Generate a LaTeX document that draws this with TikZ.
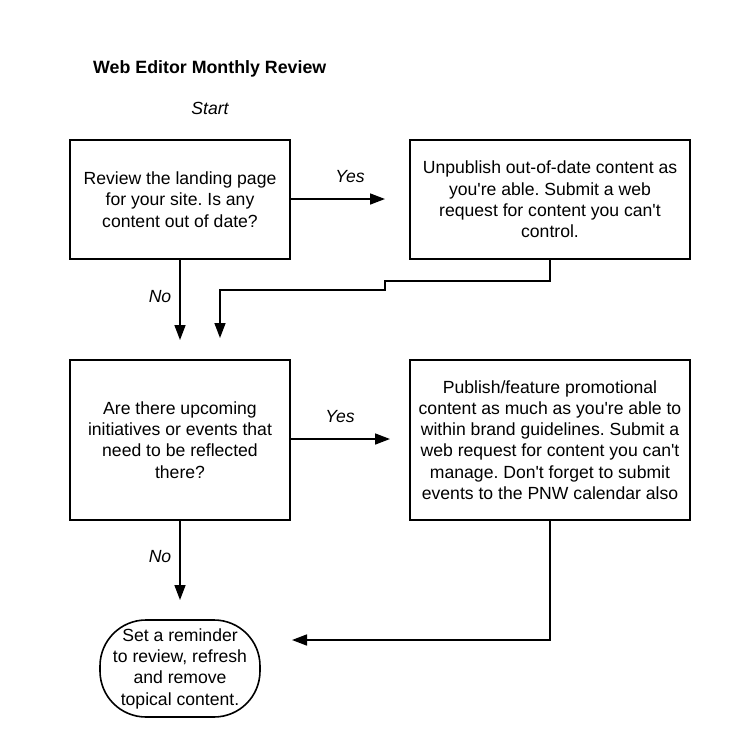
\documentclass[tikz,border=0pt]{standalone}
\usepackage{fontspec}
\setmainfont{Liberation Sans}
\usetikzlibrary{arrows.meta}
\newcommand{\ap}{\textquotesingle}
\begin{document}
\frenchspacing
\begin{tikzpicture}[x=1pt,y=-1pt,
  txt/.style={font=\fontsize{17.6}{21.3}\selectfont, align=center, inner sep=0pt},
  box/.style={draw, line width=1.6pt, txt},
  conn/.style={line width=1.6pt, -{Triangle[length=15pt,width=11pt]}},
  lbl/.style={font=\fontsize{17.6}{20}\selectfont\itshape, inner sep=0pt}]
\useasboundingbox (0,0) rectangle (730,756);
\fill[white] (0,0) rectangle (730,756);
\node[font=\fontsize{17.8}{20}\selectfont\bfseries, anchor=west, inner sep=0pt] (title) at (93,69) {Web Editor Monthly Review};
\node[lbl] (start) at (210,108) {Start};
\node[box, minimum width=220pt, minimum height=119pt] (b1) at (180,199.5)
  {Review the landing page\\for your site. Is any\\content out of date?};
\node[box, minimum width=280pt, minimum height=119pt] (b2) at (550,199.5)
  {Unpublish out-of-date content as\\you\ap re able. Submit a web\\request for content you can\ap t\\control.};
\node[box, minimum width=220pt, minimum height=160pt] (b3) at (180,440)
  {Are there upcoming\\initiatives or events that\\need to be reflected\\there?};
\node[box, minimum width=280pt, minimum height=160pt] (b4) at (550,440)
  {Publish/feature promotional\\content as much as you\ap re able to\\within brand guidelines. Submit a\\web request for content you can\ap t\\manage. Don\ap t forget to submit\\events to the PNW calendar also};
\node[box, minimum width=160pt, minimum height=97pt, rounded corners=46pt] (end) at (180,668.5)
  {Set a reminder\\to review, refresh\\and remove\\topical content.};
\coordinate (t1) at (385,199);
\coordinate (t2) at (390,439);
\coordinate (n1) at (180,340);
\coordinate (r1) at (220,338);
\coordinate (n2) at (180,600);
\coordinate (r2) at (292,640);
\draw[conn] (b1.east |- t1) -- (t1);
\node[lbl] (yes1) at (350,177) {Yes};
\draw[conn] (b3.east |- t2) -- (t2);
\node[lbl] (yes2) at (340,417) {Yes};
\draw[conn] (b1.south) -- (n1);
\node[lbl] (no1) at (160,297) {No};
\draw[conn] (b3.south) -- (n2);
\node[lbl] (no2) at (160,557) {No};
\draw[conn] (b2.south) -- ++(0,21) -| (385,290) -| (r1);
\draw[conn] (b4.south) |- (r2);
\end{tikzpicture}
\end{document}
